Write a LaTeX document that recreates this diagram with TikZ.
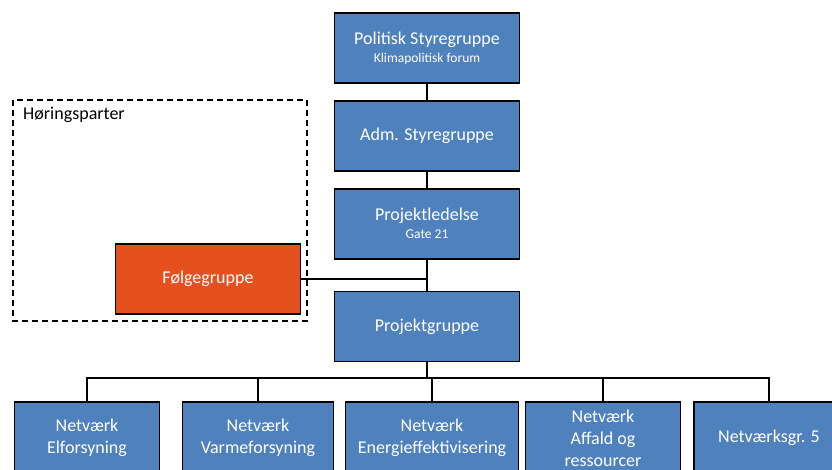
\documentclass[tikz,border=0pt]{standalone}
\usepackage{fontspec}
\setmainfont{Carlito}
\usetikzlibrary{positioning, calc}

\definecolor{boxblue}{HTML}{4F81BD}
\definecolor{boxorange}{HTML}{E5501F}
\newcommand{\smalltxt}[1]{{\fontsize{13.5}{15}\selectfont #1}}

\tikzset{
    box/.style={draw=black, line width=1.8pt, fill=boxblue, text=white,
        minimum width=185pt, minimum height=70pt, align=center,
        font=\fontsize{18}{22}\selectfont},
    netbox/.style={box, minimum height=72pt},
    link/.style={draw=black, line width=2.2pt},
}

\begin{document}
\begin{tikzpicture}[x=1pt, y=-1pt, node distance=16pt]
    \useasboundingbox (0,0) rectangle (832,469);

    \node[box] (ps) at (427,48) {Politisk Styregruppe\\[-4pt]\smalltxt{Klimapolitisk forum}};
    \node[box, below=of ps] (adm) {Adm. Styregruppe};
    \node[box, below=of adm] (pl) {Projektledelse\\[-4pt]\smalltxt{Gate 21}};
    \node[box, below=31pt of pl] (pg) {Projektgruppe};

    \node[box, fill=boxorange] (fg) at (208,279) {Følgegruppe};
    \draw[line width=1.6pt, dash pattern=on 6pt off 4pt] (13,100) rectangle (307,321);
    \node[anchor=north west, font=\fontsize{18}{22}\selectfont, inner sep=0pt] (hp) at (23,107) {Høringsparter};

    \node[netbox, minimum width=145pt] (n1) at (87,438) {Netværk\\Elforsyning};
    \node[netbox, minimum width=151pt] (n2) at (258,438) {Netværk\\Varmeforsyning};
    \node[netbox, minimum width=173pt] (n3) at (432,438) {Netværk\\Energieffektivisering};
    \node[netbox, minimum width=155pt] (n4) at (603,438) {Netværk\\Affald og\\ressourcer};
    \node[netbox, minimum width=150pt] (n5) at (769,438) {Netværksgr. 5};

    \coordinate (bus) at (427,378);

    \draw[link]
        (ps) -- (adm)
        (adm) -- (pl)
        (pl) -- (pg)
        (fg) -- (fg -| pl)
        (pg) -- (bus);
    \foreach \n in {n1, n2, n3, n4, n5}
        \draw[link] (bus) -| (\n);
\end{tikzpicture}
\end{document}
